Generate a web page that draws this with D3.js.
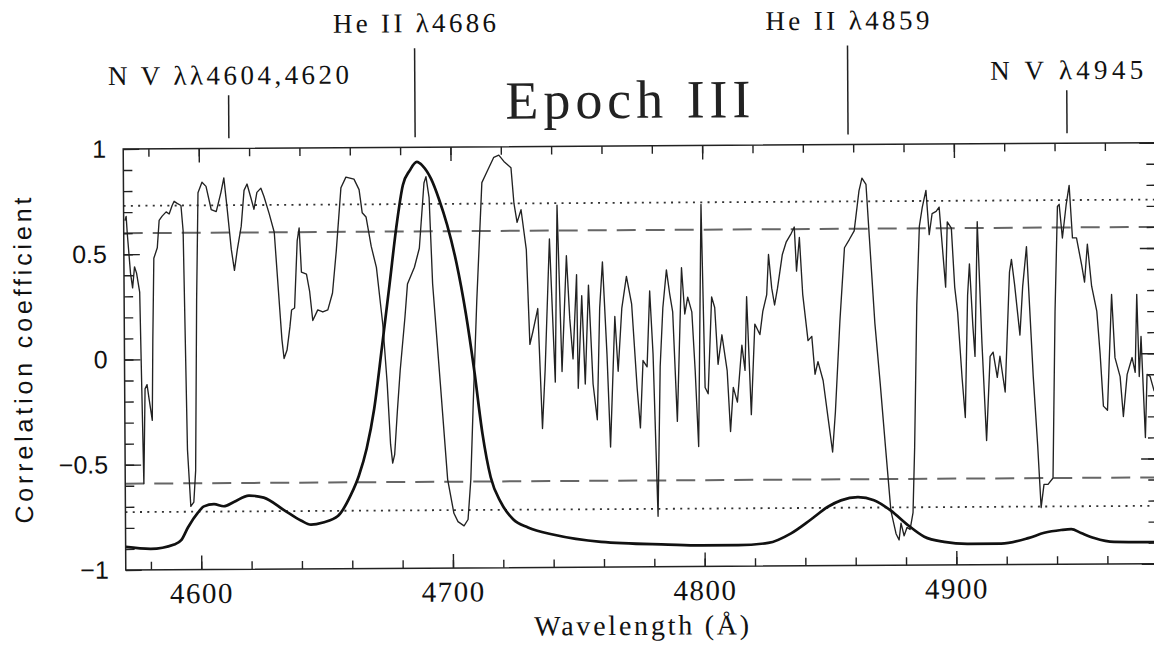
<!DOCTYPE html>
<html>
<head>
<meta charset="utf-8">
<script src="https://cdn.jsdelivr.net/npm/d3@7"></script>
<style>
  body { margin: 0; background: #fff; }
  svg { display: block; }
</style>
</head>
<body>
<div id="chart"></div>
<script>
// cross-correlation (thin), wavelength in Angstrom
const thinWave = [4570.5, 4571.0, 4571.4, 4572.6, 4573.4, 4574.2, 4575.0, 4576.2, 4576.8, 4577.4,
    4578.1, 4578.9, 4579.7, 4580.9, 4581.3, 4581.9, 4583.3, 4584.1, 4585.3, 4586.9,
    4588.1, 4589.3, 4590.1, 4591.3, 4592.8, 4593.6, 4594.8, 4596.0, 4597.2, 4598.0,
    4598.8, 4599.6, 4601.2, 4602.8, 4604.8, 4606.8, 4608.7, 4609.9, 4611.1, 4612.7,
    4613.9, 4615.1, 4616.7, 4617.9, 4619.1, 4620.7, 4621.8, 4623.0, 4624.6, 4625.8,
    4627.8, 4629.8, 4631.0, 4632.6, 4633.4, 4634.6, 4635.8, 4636.5, 4637.7, 4638.9,
    4639.7, 4640.5, 4642.5, 4643.7, 4644.9, 4646.9, 4648.9, 4650.9, 4652.8, 4654.4,
    4656.4, 4658.4, 4661.6, 4663.6, 4664.8, 4666.3, 4668.3, 4670.3, 4672.7, 4674.3,
    4675.5, 4676.3, 4677.1, 4678.3, 4679.5, 4681.5, 4682.6, 4685.4, 4687.4, 4689.4,
    4690.2, 4691.4, 4692.6, 4695.4, 4698.1, 4700.5, 4702.1, 4704.5, 4706.1, 4707.3,
    4708.5, 4710.1, 4712.4, 4714.4, 4717.2, 4719.2, 4721.2, 4724.0, 4725.1, 4726.3,
    4727.9, 4729.9, 4731.1, 4732.3, 4734.3, 4735.9, 4737.1, 4739.1, 4741.1, 4742.2,
    4743.8, 4745.8, 4747.0, 4748.2, 4749.8, 4750.2, 4751.8, 4753.0, 4754.5, 4756.1,
    4757.7, 4758.9, 4760.1, 4761.7, 4762.9, 4764.9, 4766.1, 4767.7, 4769.6, 4771.6,
    4773.6, 4774.8, 4776.0, 4777.6, 4778.8, 4780.0, 4781.6, 4782.8, 4784.0, 4785.5,
    4786.7, 4787.9, 4789.5, 4791.5, 4792.7, 4793.9, 4795.5, 4796.7, 4797.9, 4799.4,
    4800.6, 4801.8, 4803.4, 4804.6, 4805.8, 4807.4, 4809.4, 4810.6, 4811.8, 4813.4,
    4815.3, 4816.5, 4817.3, 4818.9, 4820.5, 4822.5, 4823.7, 4825.3, 4826.1, 4827.3,
    4828.4, 4829.6, 4831.6, 4833.2, 4835.2, 4836.4, 4837.2, 4838.4, 4839.6, 4841.6,
    4843.1, 4844.3, 4845.5, 4847.5, 4849.5, 4851.1, 4852.3, 4854.3, 4856.3, 4858.3,
    4860.2, 4862.2, 4863.4, 4865.0, 4866.2, 4868.2, 4870.2, 4872.2, 4874.1, 4876.1,
    4877.3, 4878.1, 4879.3, 4880.5, 4881.7, 4882.9, 4883.7, 4884.9, 4886.1, 4887.3,
    4888.8, 4890.0, 4891.2, 4892.8, 4894.0, 4895.2, 4896.4, 4897.2, 4898.8, 4900.0,
    4901.1, 4902.7, 4903.9, 4905.1, 4905.9, 4907.1, 4907.9, 4909.1, 4910.7, 4912.3,
    4913.9, 4915.1, 4916.7, 4917.8, 4919.8, 4921.8, 4922.6, 4923.8, 4925.8, 4927.0,
    4928.6, 4929.8, 4931.0, 4932.6, 4933.8, 4935.0, 4936.6, 4938.6, 4939.8, 4941.0,
    4941.7, 4942.9, 4944.5, 4945.7, 4946.9, 4948.5, 4950.5, 4951.6, 4952.8, 4954.4,
    4956.4, 4957.6, 4958.8, 4960.4, 4962.3, 4963.5, 4965.5, 4966.7, 4968.3, 4970.3,
    4971.5, 4972.3, 4973.1, 4973.9, 4975.4, 4976.2, 4977.4, 4979.0];
const thinCorr = [0.66, 0.68, 0.60, 0.41, 0.34, 0.44, 0.41, 0.32, -0.14, -0.59,
    -0.14, -0.12, -0.19, -0.29, 0.09, 0.48, 0.53, 0.66, 0.68, 0.70,
    0.69, 0.73, 0.75, 0.74, 0.73, 0.61, -0.43, -0.70, -0.68, -0.53,
    0.28, 0.79, 0.84, 0.82, 0.71, 0.70, 0.79, 0.86, 0.72, 0.52,
    0.42, 0.52, 0.63, 0.80, 0.83, 0.76, 0.71, 0.79, 0.81, 0.77,
    0.69, 0.60, 0.38, 0.09, 0.00, 0.04, 0.15, 0.23, 0.24, 0.56,
    0.62, 0.41, 0.40, 0.32, 0.18, 0.23, 0.22, 0.23, 0.31, 0.51,
    0.81, 0.86, 0.85, 0.80, 0.69, 0.67, 0.53, 0.43, 0.16, -0.12,
    -0.41, -0.50, -0.46, -0.25, -0.06, 0.19, 0.35, 0.43, 0.52, 0.83,
    0.86, 0.76, 0.35, -0.12, -0.58, -0.74, -0.78, -0.80, -0.77, -0.58,
    -0.20, 0.27, 0.83, 0.88, 0.95, 0.96, 0.93, 0.90, 0.73, 0.64,
    0.70, 0.51, 0.06, 0.12, 0.23, -0.34, -0.06, 0.56, -0.12, 0.72,
    -0.07, 0.48, 0.18, -0.01, 0.39, -0.15, 0.29, -0.13, 0.34, -0.13,
    -0.30, 0.23, 0.45, 0.01, -0.43, 0.19, -0.07, 0.23, 0.38, 0.25,
    -0.15, -0.34, -0.02, -0.05, 0.31, 0.01, -0.76, -0.05, 0.23, 0.41,
    0.30, 0.21, -0.31, 0.42, 0.20, 0.28, 0.21, -0.07, -0.43, 0.72,
    -0.15, -0.18, 0.28, 0.23, -0.04, 0.10, -0.07, -0.36, -0.15, -0.22,
    0.05, -0.07, 0.28, -0.28, 0.15, 0.10, 0.21, 0.29, 0.48, 0.32,
    0.24, 0.32, 0.48, 0.54, 0.58, 0.61, 0.40, 0.56, 0.29, 0.07,
    0.09, -0.09, -0.03, -0.12, -0.31, -0.46, -0.27, 0.16, 0.51, 0.55,
    0.59, 0.78, 0.84, 0.81, 0.56, 0.15, -0.14, -0.45, -0.74, -0.85,
    -0.88, -0.80, -0.86, -0.82, -0.83, -0.75, -0.44, 0.24, 0.61, 0.70,
    0.78, 0.57, 0.67, 0.68, 0.70, 0.51, 0.32, 0.63, 0.60, 0.32,
    0.20, -0.11, -0.30, 0.28, 0.43, 0.14, -0.01, 0.63, 0.05, -0.41,
    -0.01, 0.01, -0.11, -0.01, -0.18, 0.39, 0.45, 0.33, 0.09, 0.32,
    0.51, 0.20, -0.11, -0.44, -0.73, -0.62, -0.62, -0.59, 0.20, 0.70,
    0.71, 0.55, 0.71, 0.80, 0.55, 0.55, 0.42, 0.34, 0.52, 0.32,
    0.20, 0.00, -0.25, -0.27, 0.28, -0.02, -0.11, -0.30, -0.10, -0.02,
    -0.09, 0.28, -0.11, 0.08, -0.40, -0.10, -0.11, -0.18];

// smooth profile (thick)
const thickWave = [4570, 4580, 4589.3, 4592.1, 4594.8, 4598.8, 4601.2, 4605.2, 4609.1, 4613.1,
    4619.1, 4625.0, 4633.0, 4639.7, 4643.7, 4648.5, 4654.4, 4659.6, 4662.8, 4666.0,
    4669.1, 4672.3, 4675.5, 4678.3, 4681.0, 4683.8, 4686.6, 4689.0, 4692.2, 4695.4,
    4698.5, 4702.1, 4705.7, 4708.9, 4712.0, 4715.2, 4719.2, 4724.0, 4729.9, 4740.2,
    4758.9, 4785.5, 4798.8, 4813.4, 4825.3, 4834.4, 4842.3, 4849.1, 4854.3, 4861.0,
    4867.4, 4874.1, 4880.9, 4887.3, 4895.2, 4904.7, 4917.8, 4928.6, 4935.0, 4941.7,
    4945.7, 4949.6, 4954.8, 4962.7, 4979.0];
const thickCorr = [-0.89, -0.90, -0.88, -0.86, -0.80, -0.73, -0.70, -0.69, -0.70, -0.68,
    -0.65, -0.66, -0.72, -0.77, -0.79, -0.78, -0.75, -0.65, -0.56, -0.43,
    -0.24, 0.05, 0.35, 0.62, 0.82, 0.89, 0.93, 0.91, 0.85, 0.75,
    0.63, 0.45, 0.21, -0.06, -0.36, -0.57, -0.69, -0.77, -0.81, -0.845,
    -0.88, -0.895, -0.90, -0.90, -0.89, -0.845, -0.78, -0.72, -0.69, -0.675,
    -0.69, -0.74, -0.81, -0.865, -0.89, -0.90, -0.90, -0.875, -0.85, -0.837,
    -0.833, -0.852, -0.876, -0.895, -0.897];

// significance levels
const dashedLevels = [0.6, -0.59];
const dottedLevels = [0.73, -0.725];

// line identifications above the frame
const lineLabels = ["N V λλ4604,4620", "He II λ4686", "He II λ4859", "N V λ4945"];
const lineWaves = [4612, 4686, 4858, 4945];
const lineRow = [1, 0, 0, 1];
const lineLabelWidth = [241, 163, 164, 153];

// axis ticks
const xLabels = [4600, 4700, 4800, 4900];
const yLabels = [-1, -0.5, 0, 0.5, 1];
const xMinor = d3.range(4580, 4981, 20);
const yMinor = d3.range(-9, 10).map(d => d / 10);

const width = 1154, height = 650;
const plot = {left: 124.5, right: 1156.5, top: 149, bottom: 570};
const serif = "'Liberation Serif', 'DejaVu Serif', serif";
const sans = "'Liberation Sans', Arial, sans-serif";

const svg = d3.select("#chart").append("svg")
    .attr("width", width)
    .attr("height", height);

// the scanned page is tilted slightly
const g = svg.append("g").attr("transform", "rotate(-0.35," + plot.left + ",360)");

const x = d3.scaleLinear().domain([4570, 4980]).range([plot.left, plot.right]);
const y = d3.scaleLinear().domain([-1, 1]).range([plot.bottom, plot.top]);

g.append("clipPath").attr("id", "clip")
    .append("rect")
    .attr("x", plot.left).attr("y", plot.top)
    .attr("width", plot.right - plot.left).attr("height", plot.bottom - plot.top);

// horizontal reference levels
g.selectAll(".dashed").data(dashedLevels).enter().append("line")
    .attr("x1", plot.left).attr("x2", plot.right)
    .attr("y1", d => y(d)).attr("y2", d => y(d))
    .attr("stroke", "#666").attr("stroke-width", 2)
    .attr("stroke-dasharray", "19,10");
g.selectAll(".dotted").data(dottedLevels).enter().append("line")
    .attr("x1", plot.left).attr("x2", plot.right)
    .attr("y1", d => y(d)).attr("y2", d => y(d))
    .attr("stroke", "#333").attr("stroke-width", 1.8)
    .attr("stroke-dasharray", "2,5.3");

// curves
const thin = thinWave.map((w, i) => [w, thinCorr[i]]);
const thick = thickWave.map((w, i) => [w, thickCorr[i]]);

const lineThin = d3.line().x(d => x(d[0])).y(d => y(d[1]));
const lineThick = d3.line().x(d => x(d[0])).y(d => y(d[1])).curve(d3.curveMonotoneX);

g.append("path").datum(thin)
    .attr("clip-path", "url(#clip)")
    .attr("d", lineThin)
    .attr("fill", "none")
    .attr("stroke", "#222")
    .attr("stroke-width", 1.35)
    .attr("stroke-linejoin", "round");

g.append("path").datum(thick)
    .attr("clip-path", "url(#clip)")
    .attr("d", lineThick)
    .attr("fill", "none")
    .attr("stroke", "#111")
    .attr("stroke-width", 2.7);

// axes, ticks pointing inwards
function clean(sel) {
    sel.select(".domain").remove();
    sel.selectAll(".tick line").attr("stroke", "#222").attr("stroke-width", 1.4);
}

g.append("g").attr("transform", "translate(0," + plot.bottom + ")")
    .call(d3.axisBottom(x).tickValues(xMinor).tickSize(-8).tickFormat(""))
    .call(clean);
g.append("g").attr("transform", "translate(0," + plot.bottom + ")")
    .call(d3.axisBottom(x).tickValues(xLabels).tickSize(-14).tickPadding(13).tickFormat(d3.format("d")))
    .call(clean)
    .call(s => s.selectAll("text")
        .attr("font-family", serif).attr("font-size", 29)
        .attr("letter-spacing", 1.5).attr("fill", "#111"));

g.append("g").attr("transform", "translate(0," + plot.top + ")")
    .call(d3.axisTop(x).tickValues(xMinor).tickSize(-8).tickFormat(""))
    .call(clean);
g.append("g").attr("transform", "translate(0," + plot.top + ")")
    .call(d3.axisTop(x).tickValues(xLabels).tickSize(-14).tickFormat(""))
    .call(clean);

g.append("g").attr("transform", "translate(" + plot.left + ",0)")
    .call(d3.axisLeft(y).tickValues(yMinor).tickSize(-9).tickFormat(""))
    .call(clean);
g.append("g").attr("transform", "translate(" + plot.left + ",0)")
    .call(d3.axisLeft(y).tickValues(yLabels).tickSize(-16).tickPadding(17).tickFormat(d3.format("")))
    .call(clean)
    .call(s => s.selectAll("text")
        .attr("font-family", sans).attr("font-size", 25).attr("fill", "#111"));

g.append("g").attr("transform", "translate(" + plot.right + ",0)")
    .call(d3.axisRight(y).tickValues(yMinor).tickSize(-9).tickFormat(""))
    .call(clean);
g.append("g").attr("transform", "translate(" + plot.right + ",0)")
    .call(d3.axisRight(y).tickValues(yLabels).tickSize(-16).tickFormat(""))
    .call(clean);

// frame
g.append("rect")
    .attr("x", plot.left).attr("y", plot.top)
    .attr("width", plot.right - plot.left).attr("height", plot.bottom - plot.top)
    .attr("fill", "none").attr("stroke", "#222").attr("stroke-width", 1.5);

// axis titles
g.append("text")
    .attr("x", 640).attr("y", 638)
    .attr("text-anchor", "middle")
    .attr("font-family", serif).attr("font-size", 28)
    .attr("textLength", 215).attr("lengthAdjust", "spacing")
    .attr("fill", "#111")
    .text("Wavelength (Å)");

g.append("text")
    .attr("transform", "translate(32,360) rotate(-90)")
    .attr("text-anchor", "middle")
    .attr("font-family", sans).attr("font-size", 25)
    .attr("textLength", 326).attr("lengthAdjust", "spacing")
    .attr("fill", "#111")
    .text("Correlation coefficient");

// title
g.append("text")
    .attr("x", 507).attr("y", 121)
    .attr("font-family", serif).attr("font-size", 54)
    .attr("textLength", 245).attr("lengthAdjust", "spacing")
    .attr("fill", "#222")
    .text("Epoch III");

// line identifications
const rowText = [34, 85], rowTop = [50, 96];
const marks = g.selectAll(".mark").data(lineLabels).enter().append("g");
marks.append("line")
    .attr("x1", (d, i) => x(lineWaves[i])).attr("x2", (d, i) => x(lineWaves[i]))
    .attr("y1", (d, i) => rowTop[lineRow[i]]).attr("y2", 139)
    .attr("stroke", "#222").attr("stroke-width", 1.5);
marks.append("text")
    .attr("x", (d, i) => x(lineWaves[i]))
    .attr("y", (d, i) => rowText[lineRow[i]])
    .attr("text-anchor", "middle")
    .attr("font-family", serif).attr("font-size", 27)
    .attr("textLength", (d, i) => lineLabelWidth[i]).attr("lengthAdjust", "spacing")
    .attr("fill", "#111")
    .text(d => d);
</script>
</body>
</html>
